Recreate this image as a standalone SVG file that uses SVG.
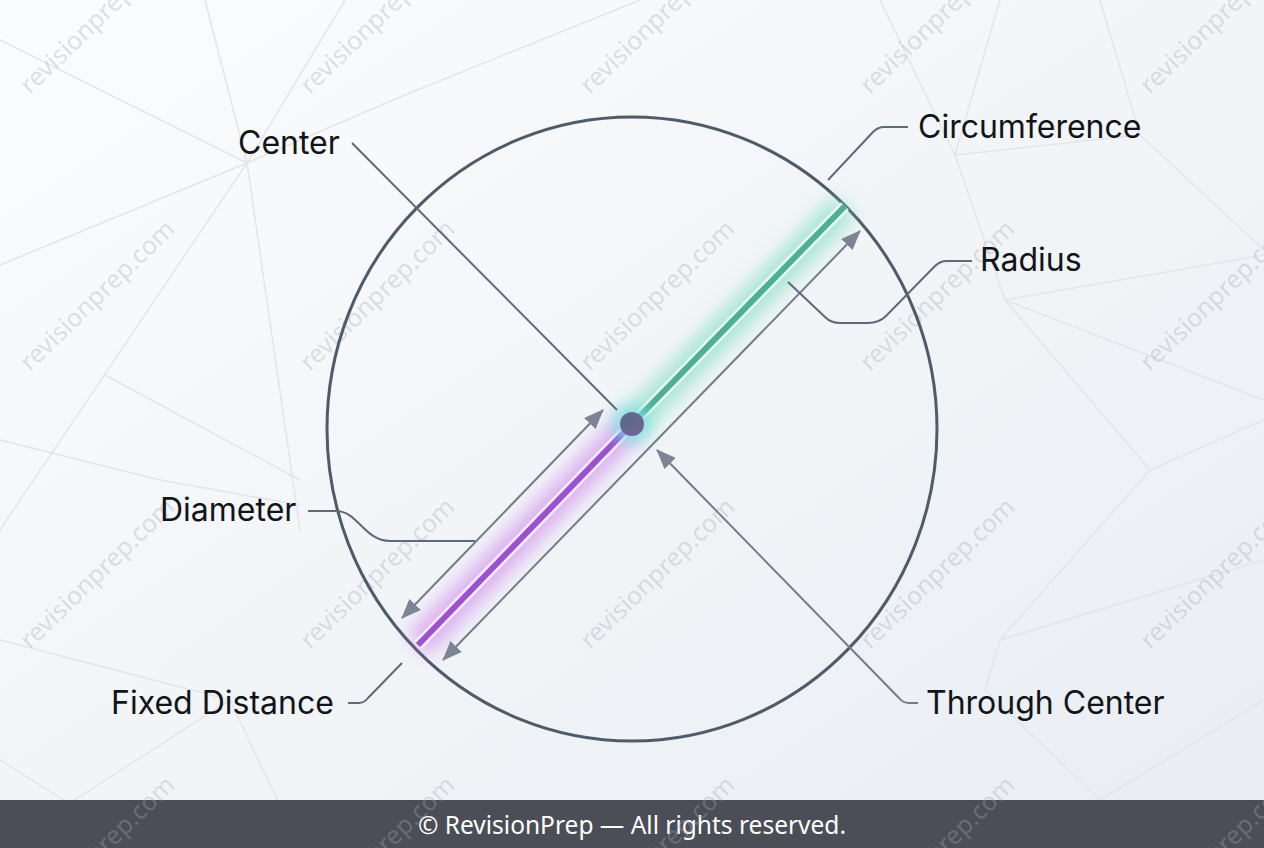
<svg xmlns="http://www.w3.org/2000/svg" width="1264" height="848" viewBox="0 0 1264 848">
<defs>
<linearGradient id="bg" x1="0" y1="0" x2="1" y2="1">
<stop offset="0" stop-color="#fbfcfd"/>
<stop offset="1" stop-color="#e9edf2"/>
</linearGradient>
<radialGradient id="dotg" cx="0.4" cy="0.35" r="0.7">
<stop offset="0" stop-color="#5d6a86"/>
<stop offset="1" stop-color="#6f6498"/>
</radialGradient>
<filter id="blur" x="-50%" y="-50%" width="200%" height="200%"><feGaussianBlur stdDeviation="9"/></filter>
<filter id="blur2" x="-100%" y="-100%" width="300%" height="300%"><feGaussianBlur stdDeviation="7"/></filter>
<marker id="ah" viewBox="0 0 20 16" refX="19" refY="8" markerWidth="20" markerHeight="16" markerUnits="userSpaceOnUse" orient="auto-start-reverse">
<path d="M0,0 L20,8 L0,16 z" fill="#7d8494"/>
</marker>
<style>
.bgl{stroke:#e2e5e9;stroke-width:1.5;fill:none}
.wm{font-family:"Noto Sans","Liberation Sans",sans-serif;font-size:25px;fill:#a3a9b1;opacity:0.33}
.lbl{font-family:Inter,"Noto Sans","Liberation Sans",sans-serif;font-size:32px;fill:#111418}
.lead{stroke:#5f6a77;stroke-width:2;fill:none}
.arr{stroke:#737b8a;stroke-width:2;fill:none}
</style>
</defs>
<rect x="0" y="0" width="1264" height="848" fill="url(#bg)"/>
<g id="background-lines">
<path class="bgl" d="M0,40 L247,163 M205,0 L247,163 M345,0 L247,163 L400,97 L640,0 M247,163 L0,265 M247,163 L0,530 M247,163 L300,530"/>
<path class="bgl" d="M105,375 L300,480 M0,440 L160,480 L300,505 M0,640 L230,700 L300,848 M0,760 L140,848 M230,700 L0,848"/>
<path class="bgl" d="M880,0 L955,155 M1000,0 L955,155 L1140,135 L1264,250 M955,155 L1005,300 L1264,255 M1005,300 L1264,400 M1005,300 L1150,470 L1264,420 M1100,0 L1140,135"/>
<path class="bgl" d="M1150,470 L1000,640 L1264,560 M1000,640 L985,690 L1100,800 M1264,700 L1100,800 L1000,848"/>
</g>
<g id="watermarks">
<text class="wm" transform="translate(30,95) rotate(-44)">revisionprep.com</text>
<text class="wm" transform="translate(310,95) rotate(-44)">revisionprep.com</text>
<text class="wm" transform="translate(590,95) rotate(-44)">revisionprep.com</text>
<text class="wm" transform="translate(870,95) rotate(-44)">revisionprep.com</text>
<text class="wm" transform="translate(1150,95) rotate(-44)">revisionprep.com</text>
<text class="wm" transform="translate(30,372) rotate(-44)">revisionprep.com</text>
<text class="wm" transform="translate(310,372) rotate(-44)">revisionprep.com</text>
<text class="wm" transform="translate(590,372) rotate(-44)">revisionprep.com</text>
<text class="wm" transform="translate(870,372) rotate(-44)">revisionprep.com</text>
<text class="wm" transform="translate(1150,372) rotate(-44)">revisionprep.com</text>
<text class="wm" transform="translate(30,650) rotate(-44)">revisionprep.com</text>
<text class="wm" transform="translate(310,650) rotate(-44)">revisionprep.com</text>
<text class="wm" transform="translate(590,650) rotate(-44)">revisionprep.com</text>
<text class="wm" transform="translate(870,650) rotate(-44)">revisionprep.com</text>
<text class="wm" transform="translate(1150,650) rotate(-44)">revisionprep.com</text>
</g>
<g id="circle-node">
<ellipse cx="632" cy="429" rx="305" ry="312" fill="none" stroke="#4e5b69" stroke-width="3"/>
</g>
<g id="radius-node">
<line x1="632" y1="424" x2="845" y2="206" stroke="#5fd8ac" stroke-width="30" opacity="0.5" filter="url(#blur)"/>
<line x1="632" y1="424" x2="845" y2="206" stroke="#f4fbf8" stroke-width="11" opacity="0.85"/>
<line x1="632" y1="424" x2="845" y2="206" stroke="#4daf93" stroke-width="6"/>
</g>
<g id="diameter-half-node">
<line x1="632" y1="424" x2="418" y2="645" stroke="#c46ae8" stroke-width="30" opacity="0.5" filter="url(#blur)"/>
<line x1="632" y1="424" x2="418" y2="645" stroke="#fbf5fd" stroke-width="11" opacity="0.85"/>
<line x1="632" y1="424" x2="418" y2="645" stroke="#9c52cf" stroke-width="6"/>
</g>
<g id="center-dot">
<circle cx="632" cy="424" r="20" fill="#7fe6e2" opacity="0.75" filter="url(#blur2)"/>
<circle cx="632" cy="424" r="12" fill="url(#dotg)"/>
</g>
<g id="connectors">
<path class="arr" d="M402,618 L603,410" marker-start="url(#ah)" marker-end="url(#ah)"/>
<path class="arr" d="M443,660 L860,231" marker-start="url(#ah)" marker-end="url(#ah)"/>
<path class="lead" d="M352,143 L617,410"/>
<path class="lead" d="M908,127 H884 Q878,127 873,132 L828,180"/>
<path class="lead" d="M972,261 H947 Q940,261 935,266 L886,316 Q879,323 868,323 H840 Q831,323 825,317 L788,282"/>
<path class="lead" d="M308,511 H336 C358,511 364,541 390,541 H475"/>
<path class="lead" d="M348,703 H359 Q364,703 368,698 L402,663"/>
<path class="arr" d="M918,703 H909 Q903,703 899,698 L657,450" marker-end="url(#ah)"/>
</g>
<g id="label-center"><text class="lbl" x="238" y="154">Center</text></g>
<g id="label-circumference"><text class="lbl" x="918" y="138">Circumference</text></g>
<g id="label-radius"><text class="lbl" x="980" y="271">Radius</text></g>
<g id="label-diameter"><text class="lbl" x="160" y="521">Diameter</text></g>
<g id="label-fixed-distance"><text class="lbl" x="111" y="714">Fixed Distance</text></g>
<g id="label-through-center"><text class="lbl" x="926" y="714">Through Center</text></g>
<g id="footer">
<rect x="0" y="800" width="1264" height="48" fill="#4b4e57"/>
<text x="632" y="834" text-anchor="middle" font-family="Noto Sans, Liberation Sans, sans-serif" font-size="24.5" fill="#ffffff">© RevisionPrep — All rights reserved.</text>
</g>
<g id="watermarks-over">
<text class="wm" transform="translate(30,928) rotate(-44)">revisionprep.com</text>
<text class="wm" transform="translate(310,928) rotate(-44)">revisionprep.com</text>
<text class="wm" transform="translate(590,928) rotate(-44)">revisionprep.com</text>
<text class="wm" transform="translate(870,928) rotate(-44)">revisionprep.com</text>
<text class="wm" transform="translate(1150,928) rotate(-44)">revisionprep.com</text>
</g>
</svg>
